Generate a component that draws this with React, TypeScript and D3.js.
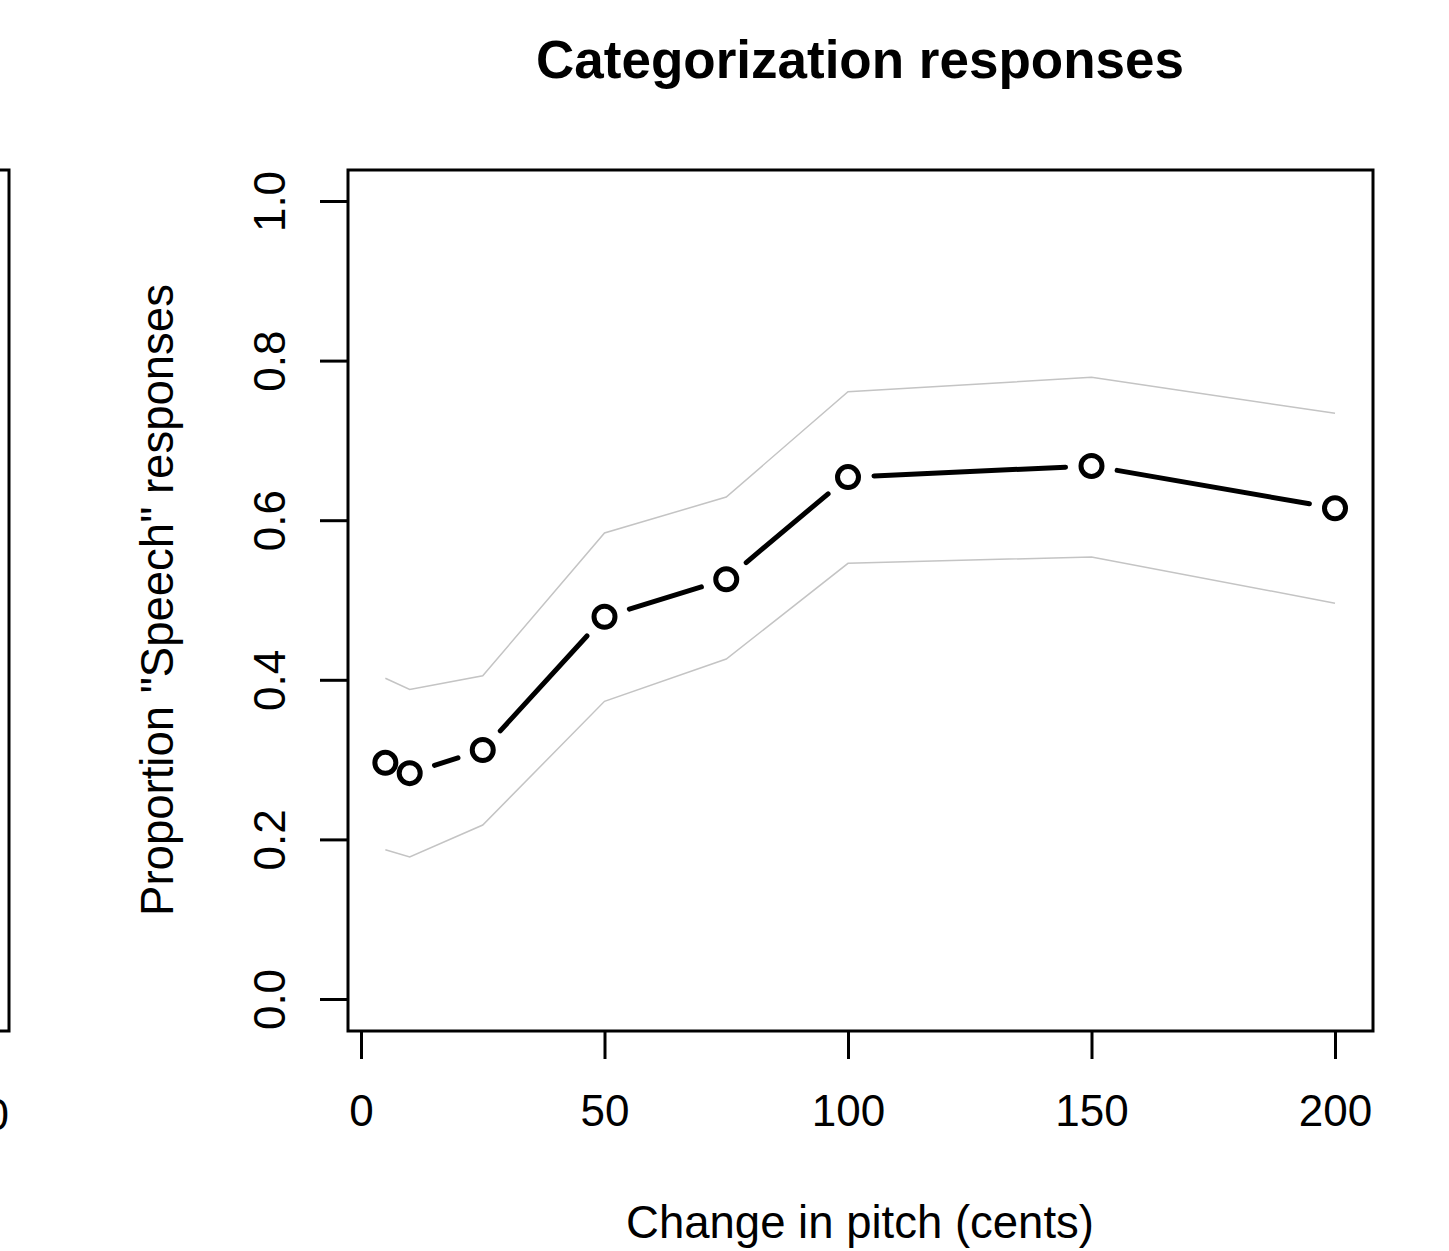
import { select, scaleLinear, axisBottom, axisLeft, line } from "d3";
import React, { useEffect, useRef } from "react";

// pitch change (cents) and proportion of "Speech" responses
const pitchCents = [5, 10, 25, 50, 75, 100, 150, 200];
const proportion = [0.296, 0.283, 0.312, 0.479, 0.526, 0.654, 0.668, 0.615];
const upperBand = [0.402, 0.388, 0.405, 0.584, 0.629, 0.761, 0.779, 0.734];
const lowerBand = [0.187, 0.178, 0.218, 0.373, 0.426, 0.546, 0.554, 0.496];
const xTicks = [0, 50, 100, 150, 200];
const yTicks = [0, 0.2, 0.4, 0.6, 0.8, 1.0];

const FONT = "'Liberation Sans', Arial, Helvetica, sans-serif";

const App = () => {
  const chartRef = useRef<SVGSVGElement>(null);

  useEffect(() => {
    if (!chartRef.current) return;
    const svg = select(chartRef.current);
    svg.selectAll("*").remove();

    // plot box
    const box = { left: 348, right: 1373, top: 170, bottom: 1031 };

    const x = scaleLinear().domain([0, 200]).range([361, 1335]);
    const y = scaleLinear().domain([0, 1]).range([999, 201]);

    // edge of neighbouring panel on the left
    svg
      .append("rect")
      .attr("x", -200)
      .attr("y", box.top)
      .attr("width", 209)
      .attr("height", box.bottom - box.top)
      .attr("fill", "none")
      .attr("stroke", "#000")
      .attr("stroke-width", 3);
    svg
      .append("text")
      .attr("x", 9)
      .attr("y", 1130)
      .attr("text-anchor", "end")
      .attr("font-family", FONT)
      .attr("font-size", 44)
      .text("200");

    // confidence bands
    const bandLine = line<number>()
      .x((_, i) => x(pitchCents[i]))
      .y((d) => y(d));
    [upperBand, lowerBand].forEach((band) => {
      svg
        .append("path")
        .datum(band)
        .attr("fill", "none")
        .attr("stroke", "#c4c4c4")
        .attr("stroke-width", 1.5)
        .attr("d", bandLine);
    });

    // line segments with gaps around points (type = "b")
    const gap = 26;
    const pts = pitchCents.map((c, i) => [x(c), y(proportion[i])]);
    for (let i = 0; i < pts.length - 1; i++) {
      const [x0, y0] = pts[i];
      const [x1, y1] = pts[i + 1];
      const len = Math.hypot(x1 - x0, y1 - y0);
      if (len <= 2 * gap) continue;
      const ux = (x1 - x0) / len;
      const uy = (y1 - y0) / len;
      svg
        .append("line")
        .attr("x1", x0 + ux * gap)
        .attr("y1", y0 + uy * gap)
        .attr("x2", x1 - ux * gap)
        .attr("y2", y1 - uy * gap)
        .attr("stroke", "#000")
        .attr("stroke-width", 5)
        .attr("stroke-linecap", "round");
    }

    svg
      .selectAll(".pt")
      .data(proportion)
      .enter()
      .append("circle")
      .attr("class", "pt")
      .attr("cx", (_, i) => x(pitchCents[i]))
      .attr("cy", (d) => y(d))
      .attr("r", 10.5)
      .attr("fill", "none")
      .attr("stroke", "#000")
      .attr("stroke-width", 5);

    // box
    svg
      .append("rect")
      .attr("x", box.left)
      .attr("y", box.top)
      .attr("width", box.right - box.left)
      .attr("height", box.bottom - box.top)
      .attr("fill", "none")
      .attr("stroke", "#000")
      .attr("stroke-width", 3);

    // x axis
    const gx = svg
      .append("g")
      .attr("transform", `translate(0,${box.bottom})`)
      .call(axisBottom(x).tickValues(xTicks).tickSize(28).tickPadding(36).tickFormat((d) => String(d)));
    gx.select(".domain").remove();
    gx.selectAll(".tick line").attr("stroke", "#000").attr("stroke-width", 3);
    gx.selectAll(".tick text")
      .attr("font-family", FONT)
      .attr("font-size", 44)
      .attr("fill", "#000");

    // y axis
    const gy = svg
      .append("g")
      .attr("transform", `translate(${box.left},0)`)
      .call(axisLeft(y).tickValues(yTicks).tickSize(28).tickFormat((d) => Number(d).toFixed(1)));
    gy.select(".domain").remove();
    gy.selectAll(".tick line").attr("stroke", "#000").attr("stroke-width", 3);
    gy.selectAll(".tick text")
      .attr("font-family", FONT)
      .attr("font-size", 44)
      .attr("fill", "#000")
      .attr("x", null)
      .attr("dy", null)
      .attr("text-anchor", "middle")
      .attr("transform", "translate(-63,0) rotate(-90)");

    // titles
    svg
      .append("text")
      .attr("x", 860)
      .attr("y", 78)
      .attr("text-anchor", "middle")
      .attr("font-family", FONT)
      .attr("font-weight", "bold")
      .attr("font-size", 53)
      .text("Categorization responses");

    svg
      .append("text")
      .attr("x", 860)
      .attr("y", 1238)
      .attr("text-anchor", "middle")
      .attr("font-family", FONT)
      .attr("font-size", 45.5)
      .text("Change in pitch (cents)");

    svg
      .append("text")
      .attr("transform", `translate(173,600) rotate(-90)`)
      .attr("text-anchor", "middle")
      .attr("font-family", FONT)
      .attr("font-size", 45.5)
      .text('Proportion "Speech" responses');
  }, []);

  return (
    <svg
      ref={chartRef}
      width={1449}
      height={1251}
      style={{ position: "absolute", left: 0, top: 0, background: "#fff" }}
    ></svg>
  );
};

export default App;
